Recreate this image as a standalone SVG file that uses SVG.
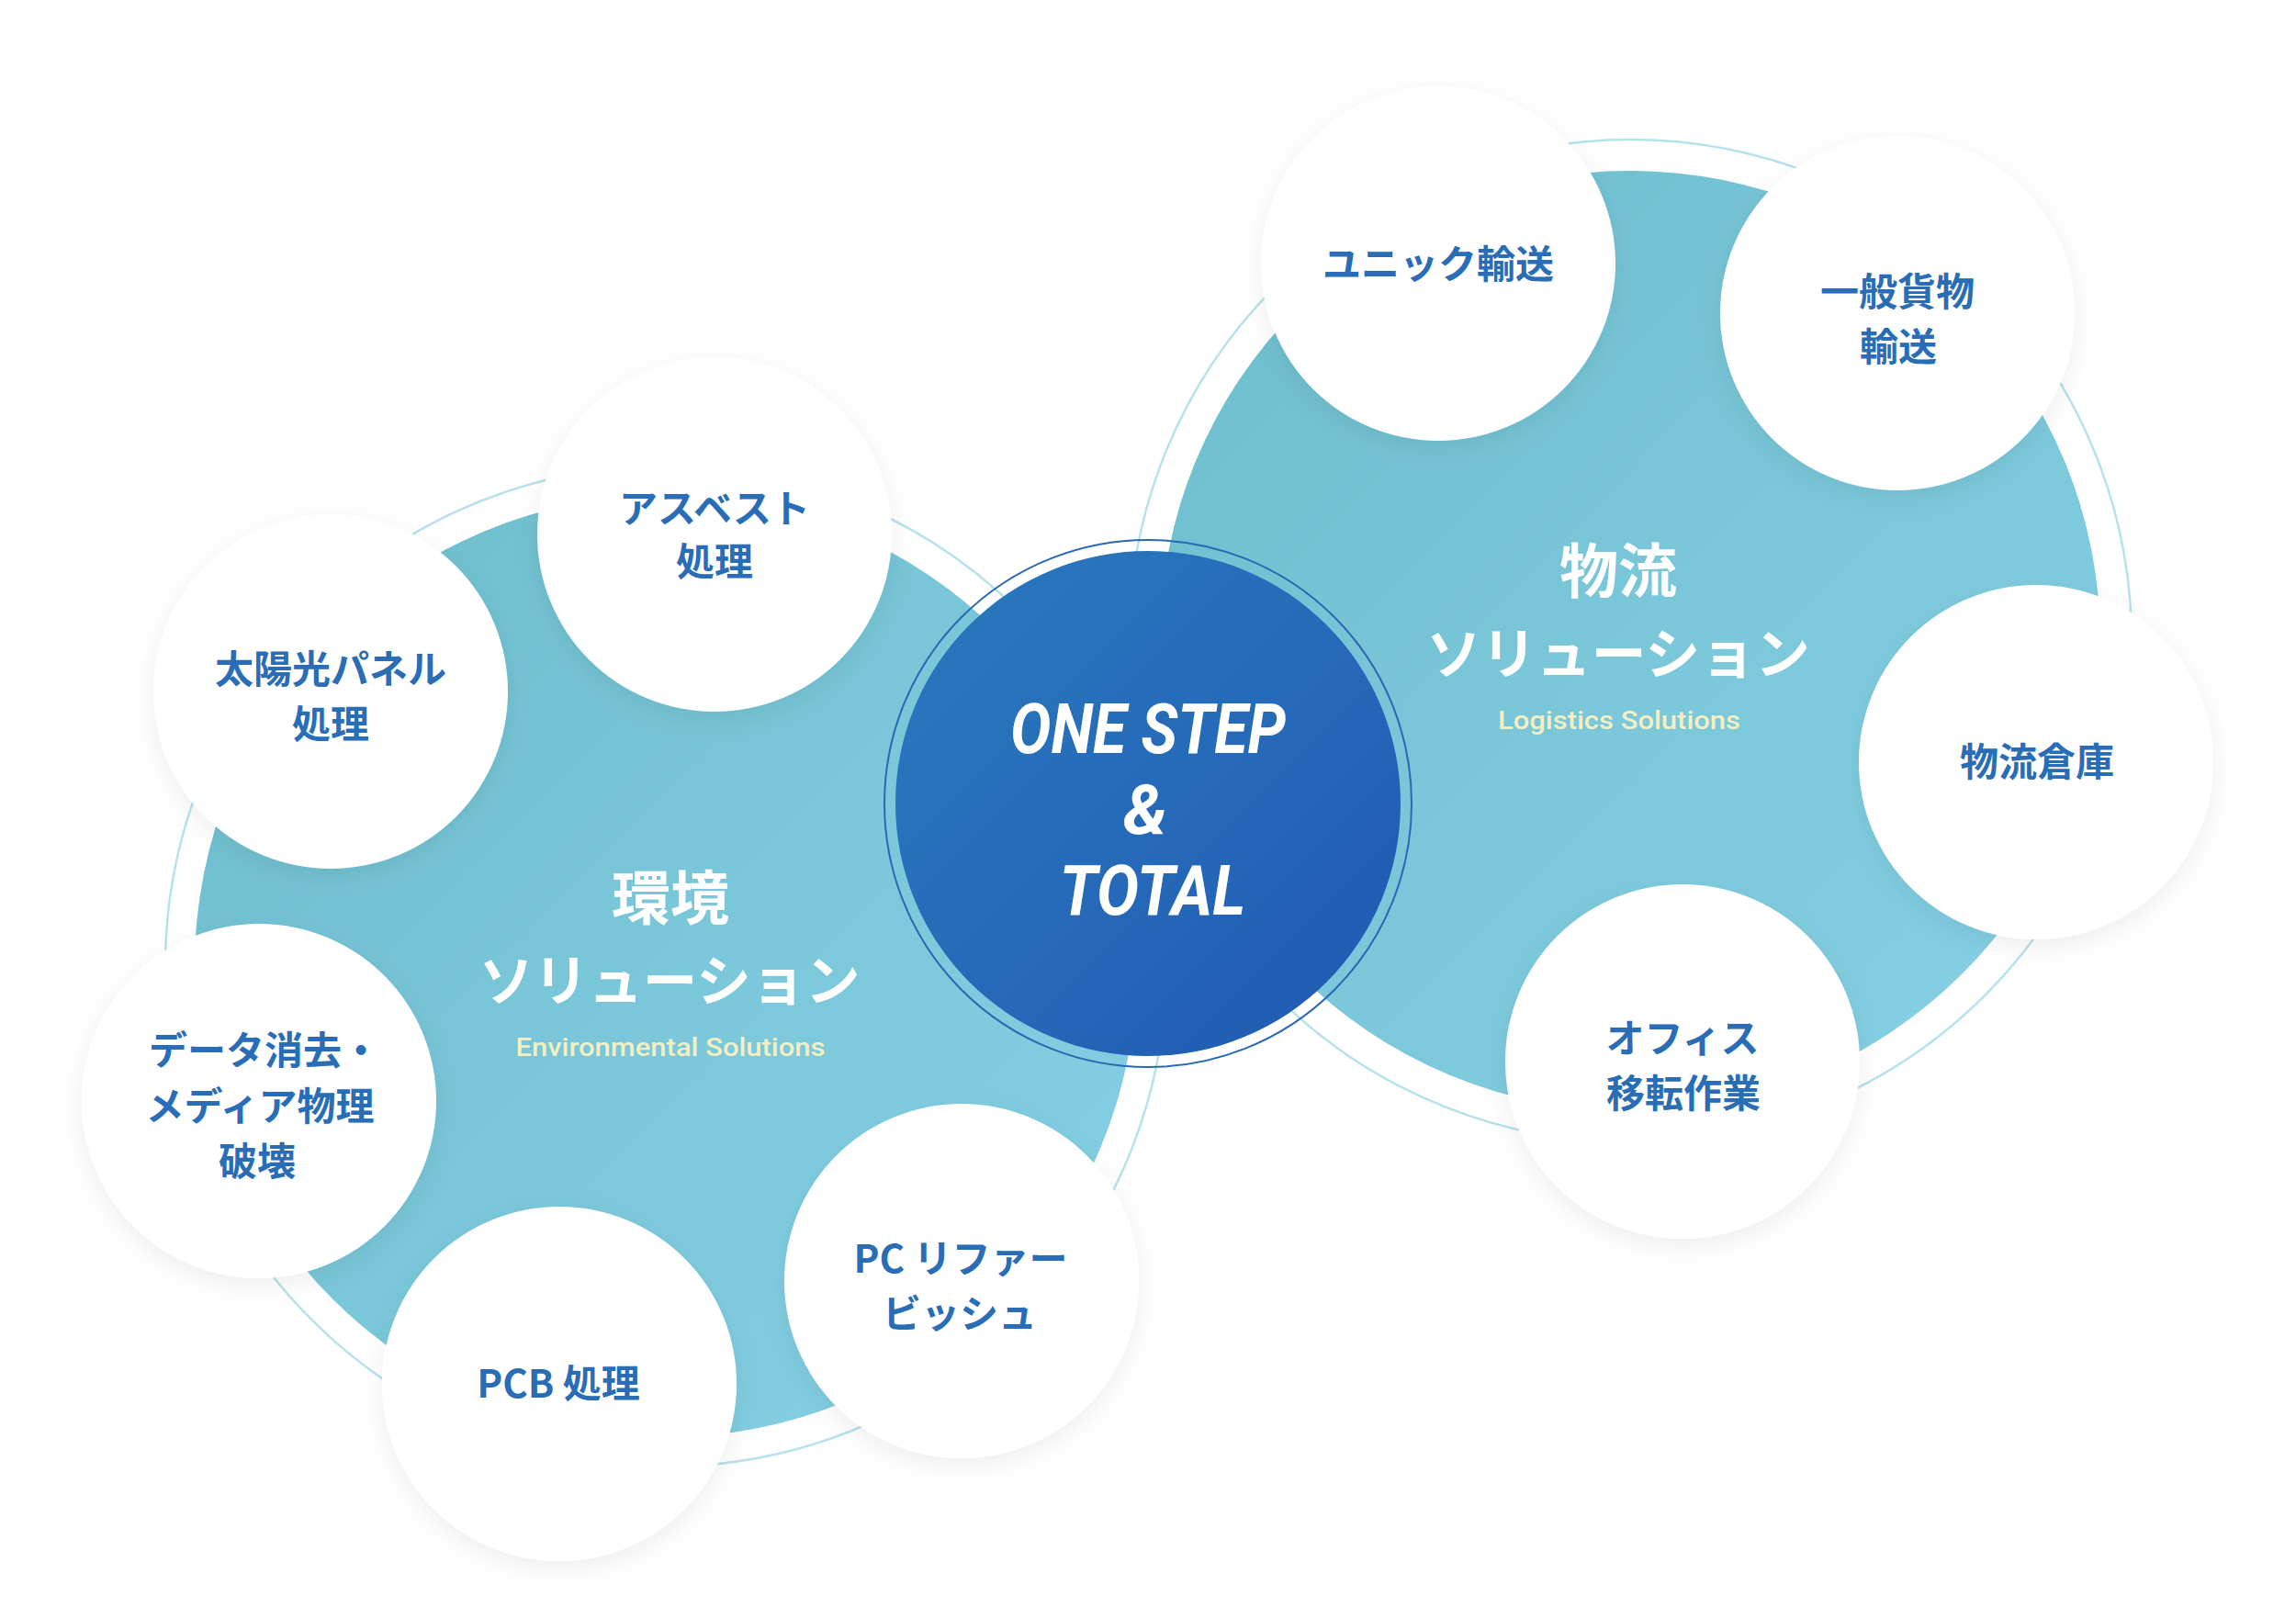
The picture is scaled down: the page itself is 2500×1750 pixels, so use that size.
<svg xmlns="http://www.w3.org/2000/svg" width="2500" height="1750" viewBox="0 0 2500 1750">
<defs>
<linearGradient id="teal" x1="0" y1="0" x2="1" y2="1">
<stop offset="0" stop-color="#6cbdcc"/>
<stop offset="1" stop-color="#87d1e6"/>
</linearGradient>
<linearGradient id="blue" x1="0" y1="0" x2="1" y2="1">
<stop offset="0" stop-color="#2a79bd"/>
<stop offset="0.55" stop-color="#2569b8"/>
<stop offset="1" stop-color="#1e57b2"/>
</linearGradient>
<filter id="shadow" x="-30%" y="-30%" width="160%" height="160%">
<feDropShadow dx="0" dy="8" stdDeviation="14" flood-color="#000" flood-opacity="0.07"/>
</filter>
<style>
.ring{fill:none;stroke:#b8e2eb;stroke-width:2.5}
.area{fill:url(#teal)}
.bubble{fill:#ffffff;filter:url(#shadow)}
.lbl{font-family:"Noto Sans CJK JP","Noto Sans",sans-serif;font-weight:700;font-size:42px;fill:#2a6db7;text-anchor:middle}
.big{font-family:"Noto Sans CJK JP","Noto Sans",sans-serif;font-weight:700;font-size:64px;fill:#ffffff;text-anchor:middle}
.kana{font-family:"Noto Sans CJK JP","Noto Sans",sans-serif;font-weight:700;font-size:60px;fill:#ffffff;text-anchor:middle}
.sub{font-family:Roboto,"Liberation Sans",sans-serif;font-weight:500;font-size:28px;fill:#f3efc3;text-anchor:middle}
.core{font-family:Roboto,"Liberation Sans",sans-serif;font-weight:700;font-style:italic;font-size:76px;fill:#ffffff;text-anchor:middle}
</style>
</defs>
<rect width="2500" height="1750" fill="#ffffff"/>

<g id="connectors">
<circle class="ring" cx="725" cy="1052" r="545"/>
<circle class="ring" cx="1775" cy="698" r="546"/>
</g>

<g id="env-area">
<circle class="area" cx="725" cy="1052" r="513"/>
<text class="big" x="730" y="1001">環境</text>
<text class="kana" x="729" y="1090" textLength="415" lengthAdjust="spacingAndGlyphs">ソリューション</text>
<text class="sub" x="730" y="1150" textLength="337" lengthAdjust="spacingAndGlyphs">Environmental Solutions</text>
</g>

<g id="logi-area">
<circle class="area" cx="1775" cy="698" r="512"/>
<text class="big" x="1762" y="645">物流</text>
<text class="kana" x="1762" y="734" textLength="418" lengthAdjust="spacingAndGlyphs">ソリューション</text>
<text class="sub" x="1763" y="794" textLength="264" lengthAdjust="spacingAndGlyphs">Logistics Solutions</text>
</g>

<g id="core">
<circle cx="1250" cy="875" r="287" fill="none" stroke="#2868b5" stroke-width="2"/>
<circle cx="1250" cy="875" r="275" fill="url(#blue)"/>
<text class="core" x="1250" y="820" textLength="300" lengthAdjust="spacingAndGlyphs">ONE STEP</text>
<text class="core" x="1247" y="908" font-size="66">&amp;</text>
<text class="core" x="1255" y="996" textLength="203" lengthAdjust="spacingAndGlyphs">TOTAL</text>
</g>

<g id="asbestos">
<circle class="bubble" cx="778" cy="582" r="193"/>
<text class="lbl" x="778" y="569">アスベスト</text>
<text class="lbl" x="778" y="627">処理</text>
</g>

<g id="solar">
<circle class="bubble" cx="360" cy="753" r="193"/>
<text class="lbl" x="360" y="744">太陽光パネル</text>
<text class="lbl" x="360" y="804">処理</text>
</g>

<g id="data">
<circle class="bubble" cx="282" cy="1199" r="193"/>
<text class="lbl" x="288" y="1159">データ消去・</text>
<text class="lbl" x="283" y="1220">メディア物理</text>
<text class="lbl" x="280" y="1280">破壊</text>
</g>

<g id="pcb">
<circle class="bubble" cx="609" cy="1507" r="193"/>
<text class="lbl" x="608" y="1522">PCB 処理</text>
</g>

<g id="pc">
<circle class="bubble" cx="1047" cy="1395" r="193"/>
<text class="lbl" x="1046" y="1386">PC リファー</text>
<text class="lbl" x="1045" y="1446">ビッシュ</text>
</g>

<g id="unic">
<circle class="bubble" cx="1566" cy="287" r="193"/>
<text class="lbl" x="1566" y="303">ユニック輸送</text>
</g>

<g id="cargo">
<circle class="bubble" cx="2066" cy="341" r="193"/>
<text class="lbl" x="2066" y="333">一般貨物</text>
<text class="lbl" x="2067" y="393">輸送</text>
</g>

<g id="warehouse">
<circle class="bubble" cx="2217" cy="830" r="193"/>
<text class="lbl" x="2218" y="845">物流倉庫</text>
</g>

<g id="office">
<circle class="bubble" cx="1832" cy="1156" r="193"/>
<text class="lbl" x="1832" y="1146">オフィス</text>
<text class="lbl" x="1833" y="1206">移転作業</text>
</g>
</svg>
